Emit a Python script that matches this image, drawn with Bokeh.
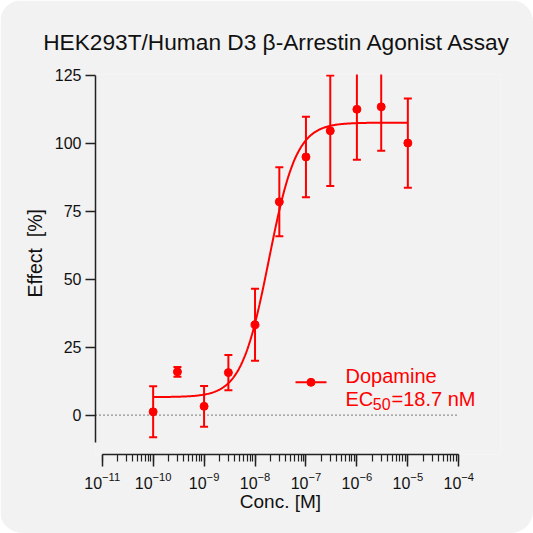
import numpy as np
from bokeh.plotting import figure
from bokeh.models import Range1d, Label, Title, LogTicker, SingleIntervalTicker, LogTickFormatter
from bokeh.embed import file_html
from bokeh.resources import INLINE

# ---- data ----
conc = [1e-10, 3e-10, 1e-9, 3e-9, 1e-8, 3e-8, 1e-7, 3e-7, 1e-6, 3e-6, 1e-5]
effect = [1.2, 15.9, 3.2, 15.6, 33.2, 78.4, 94.9, 104.5, 112.4, 113.3, 100.0]
err = [9.4, 1.8, 7.5, 6.5, 13.2, 12.7, 14.8, 20.3, 18.5, 16.1, 16.4]
# 4PL fit parameters
fit_bottom = 6.6
fit_top = 107.5
fit_ec50 = 18.7e-9
fit_hill = 1.6
fit_range = (1e-10, 1e-5)
x_axis_bounds = (1e-11, 1e-4)
y_axis_bounds = (-10, 125)
y_ticks_interval = 25

title_text = "HEK293T/Human D3 \u03b2-Arrestin Agonist Assay"
x_label = "Conc. [M]"
y_label = "Effect\u00a0 [%]"
series_name = "Dopamine"
ec50_text = ("EC", "50", "=18.7 nM")

RED = "#ff0000"
INK = "#111111"
FONT = "Liberation Sans"

lo = np.array(effect) - np.array(err)
hi = np.array(effect) + np.array(err)

xc = np.logspace(np.log10(fit_range[0]), np.log10(fit_range[1]), 300)
yc = fit_bottom + (fit_top - fit_bottom) / (1 + 10 ** ((np.log10(fit_ec50) - np.log10(xc)) * fit_hill))

# layout (page pixels)
W = H = 533
F_LEFT, F_RIGHT, F_TOP, F_BOTTOM = 95, 500, 74, 454
DEC = 50.94          # px per decade
X0_PX = 101.7        # px of 1e-11
Y0_PX, Y_PX = 414.5, 2.724   # px of y=0, px per unit


def lx(px):
    return 10 ** (-11 + (px - X0_PX) / DEC)


def ly(py):
    return (Y0_PX - py) / Y_PX


p = figure(width=W, height=H, x_axis_type="log",
           x_range=Range1d(lx(F_LEFT), lx(F_RIGHT)),
           y_range=Range1d(ly(F_BOTTOM), 125.2),
           output_backend="svg", toolbar_location=None,
           min_border_left=F_LEFT, min_border_right=W - F_RIGHT,
           min_border_top=F_TOP, min_border_bottom=H - F_BOTTOM,
           background_fill_color="#f2f2f2", border_fill_color="#f2f2f2",
           styles={"border-radius": "22px", "overflow": "hidden"})
p.outline_line_color = None
p.grid.visible = False

# axes
xa = p.xaxis[0]
xa.bounds = x_axis_bounds
xa.ticker = LogTicker(num_minor_ticks=10)
xa.formatter = LogTickFormatter()
xa.major_tick_out = 12
xa.major_tick_in = 0
xa.minor_tick_out = 7
xa.minor_tick_in = 0
xa.axis_line_width = 1.5
xa.major_tick_line_width = 1.5
xa.minor_tick_line_width = 1.2
xa.axis_line_color = "#222222"
xa.major_tick_line_color = "#222222"
xa.minor_tick_line_color = "#222222"
xa.major_label_text_font = FONT
xa.major_label_text_font_size = "16px"
xa.major_label_text_color = INK
xa.major_label_standoff = 5

ya = p.yaxis[0]
ya.bounds = y_axis_bounds
ya.ticker = SingleIntervalTicker(interval=y_ticks_interval, num_minor_ticks=0)
ya.major_tick_out = 10
ya.major_tick_in = 0
ya.minor_tick_line_color = None
ya.axis_line_width = 1.5
ya.major_tick_line_width = 1.5
ya.axis_line_color = "#222222"
ya.major_tick_line_color = "#222222"
ya.major_label_text_font = FONT
ya.major_label_text_font_size = "16px"
ya.major_label_text_color = INK
ya.major_label_standoff = 4

# titles (outside the frame)
t = Title(text=title_text, align="left", offset=42.7 - F_LEFT, standoff=39,
          text_font=FONT, text_font_size="22.7px", text_font_style="normal", text_color=INK)
p.add_layout(t, "above")
tx = Title(text=x_label, align="left", offset=239.3 - F_LEFT, standoff=0,
           text_font=FONT, text_font_size="19px", text_font_style="normal", text_color=INK)
try:
    tx.standoff = -5
except Exception:
    tx.standoff = 0
p.add_layout(tx, "below")
ty = Title(text=y_label, align="left", offset=F_BOTTOM - 297, standoff=12,
           text_font=FONT, text_font_size="19.5px", text_font_style="normal", text_color=INK)
p.add_layout(ty, "left")

# zero line across the x axis
p.line([lx(F_LEFT), x_axis_bounds[1]], [0, 0], line_color="#333333", line_width=1.2, line_dash="1 3")

# fit curve
p.line(xc, yc, line_color=RED, line_width=2)

# error bars
p.segment(x0=conc, y0=lo, x1=conc, y1=hi, line_color=RED, line_width=2)
p.scatter(conc, hi, marker="dash", size=8, line_color=RED, line_width=2)
p.scatter(conc, lo, marker="dash", size=8, line_color=RED, line_width=2)
# points
p.scatter(conc, effect, marker="circle", size=8, fill_color=RED, line_color=RED)

# legend key
p.line([lx(295), lx(326)], [ly(381.7)] * 2, line_color=RED, line_width=2)
p.scatter([lx(310.5)], [ly(381.7)], marker="circle", size=8, fill_color=RED, line_color=RED)


def lab(text, x, y, size, color=INK):
    p.add_layout(Label(x=x, y=y, text=text, text_font=FONT, text_font_size=size,
                       text_color=color, text_align="left", text_baseline="alphabetic"))


lab(series_name, lx(345), ly(375.5), "20px", RED)
lab(ec50_text[0], lx(345), ly(398), "20px", RED)
lab(ec50_text[1], lx(372.3), ly(403), "16px", RED)
lab(ec50_text[2], lx(391), ly(398), "20px", RED)

open("out.html", "w").write(file_html(p, INLINE))
